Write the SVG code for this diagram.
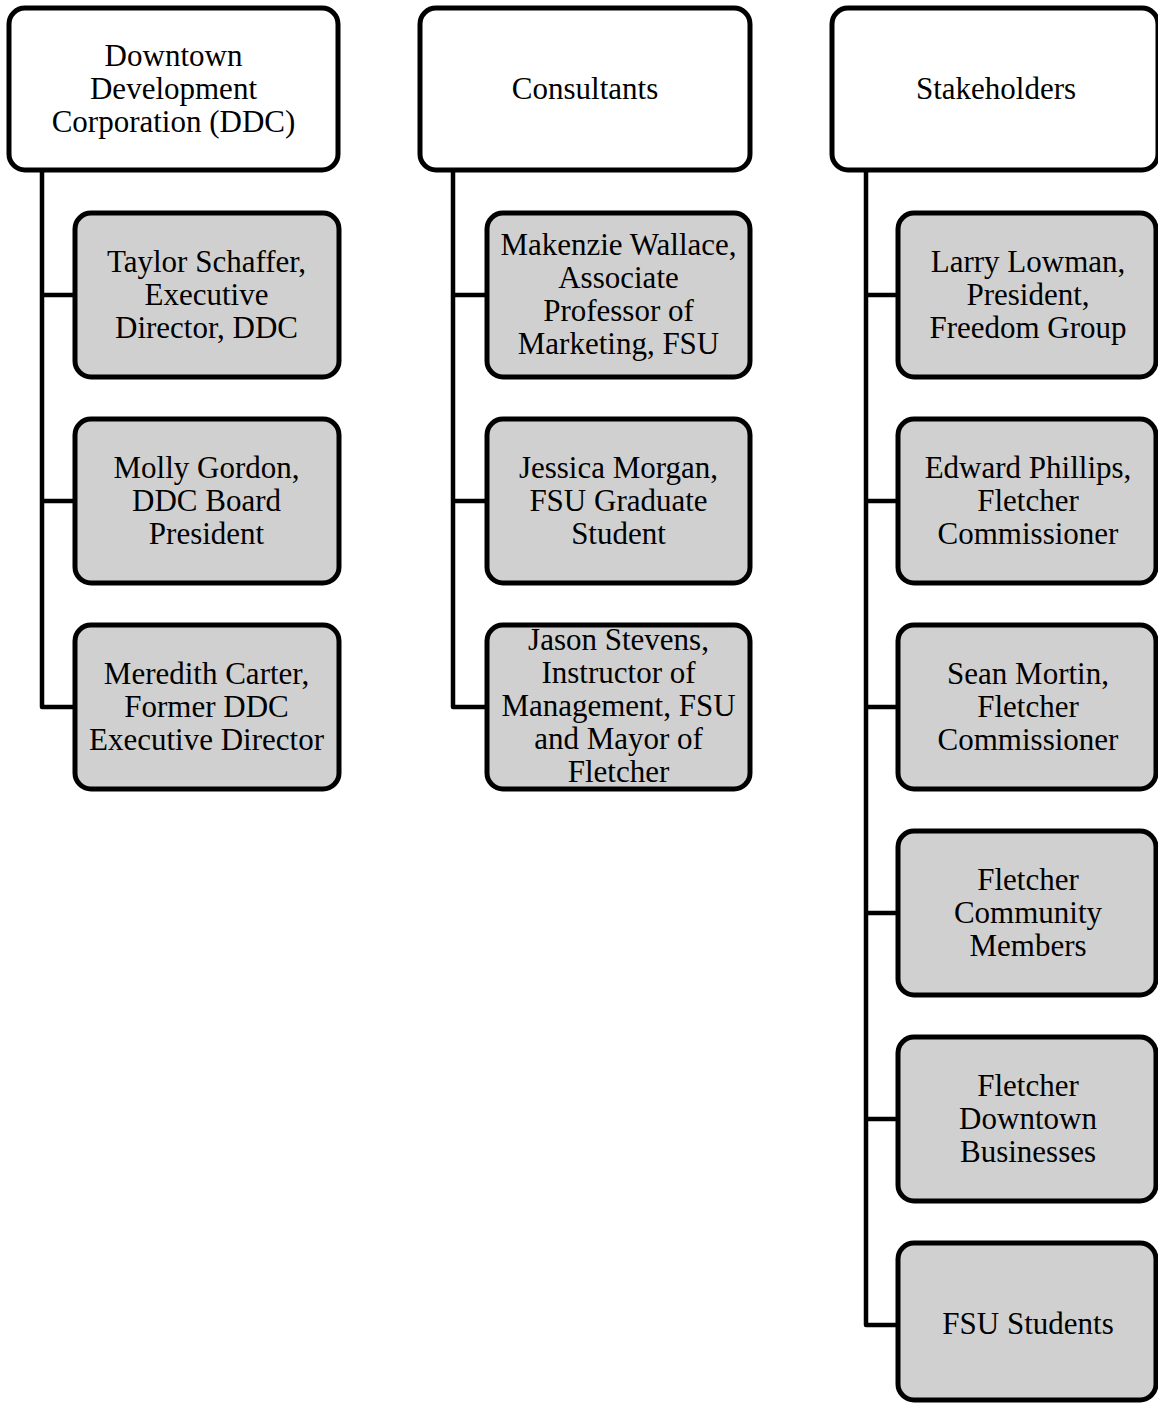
<svg xmlns="http://www.w3.org/2000/svg" width="1158" height="1403" viewBox="0 0 1158 1403">
<style>
.hd{fill:#ffffff;stroke:#000;stroke-width:5}
.ch{fill:#d0d0d0;stroke:#000;stroke-width:5}
.cn{fill:none;stroke:#000;stroke-width:4.5;stroke-linejoin:round}
text{font-family:"Liberation Serif","Times New Roman",serif;font-size:31px;fill:#000;text-anchor:middle}
</style>
<rect width="1158" height="1403" fill="#fff"/>
<g id="connectors">
<path class="cn" d="M42,170 V707 H74 M42,295 H74 M42,501 H74"/>
<path class="cn" d="M453,170 V707 H487 M453,295 H487 M453,501 H487"/>
<path class="cn" d="M866,170 V1325 H897 M866,295 H897 M866,501 H897 M866,707 H897 M866,913 H897 M866,1119 H897"/>
</g>
<g id="ddc"><rect class="hd" x="9" y="8" width="329" height="162" rx="16"/>
<text x="173.5" y="66">Downtown</text><text x="173.5" y="99">Development</text><text x="173.5" y="132">Corporation (DDC)</text></g>
<g id="consultants"><rect class="hd" x="420" y="8" width="330" height="162" rx="16"/>
<text x="585" y="99">Consultants</text></g>
<g id="stakeholders"><rect class="hd" x="832" y="8" width="326" height="162" rx="16"/>
<text x="996" y="99">Stakeholders</text></g>

<g id="taylor"><rect class="ch" x="75" y="213" width="264" height="164" rx="16"/>
<text x="206.5" y="272">Taylor Schaffer,</text><text x="206.5" y="305">Executive</text><text x="206.5" y="338">Director, DDC</text></g>
<g id="molly"><rect class="ch" x="75" y="419" width="264" height="164" rx="16"/>
<text x="206.5" y="478">Molly Gordon,</text><text x="206.5" y="511">DDC Board</text><text x="206.5" y="544">President</text></g>
<g id="meredith"><rect class="ch" x="75" y="625" width="264" height="164" rx="16"/>
<text x="206.5" y="684">Meredith Carter,</text><text x="206.5" y="717">Former DDC</text><text x="206.5" y="750">Executive Director</text></g>

<g id="makenzie"><rect class="ch" x="487" y="213" width="263" height="164" rx="16"/>
<text x="618.5" y="255">Makenzie Wallace,</text><text x="618.5" y="288">Associate</text><text x="618.5" y="321">Professor of</text><text x="618.5" y="354">Marketing, FSU</text></g>
<g id="jessica"><rect class="ch" x="487" y="419" width="263" height="164" rx="16"/>
<text x="618.5" y="478">Jessica Morgan,</text><text x="618.5" y="511">FSU Graduate</text><text x="618.5" y="544">Student</text></g>
<g id="jason"><rect class="ch" x="487" y="625" width="263" height="164" rx="16"/>
<text x="618.5" y="650">Jason Stevens,</text><text x="618.5" y="683">Instructor of</text><text x="618.5" y="716">Management, FSU</text><text x="618.5" y="749">and Mayor of</text><text x="618.5" y="782">Fletcher</text></g>

<g id="larry"><rect class="ch" x="898" y="213" width="258" height="164" rx="16"/>
<text x="1028" y="272">Larry Lowman,</text><text x="1028" y="305">President,</text><text x="1028" y="338">Freedom Group</text></g>
<g id="edward"><rect class="ch" x="898" y="419" width="258" height="164" rx="16"/>
<text x="1028" y="478">Edward Phillips,</text><text x="1028" y="511">Fletcher</text><text x="1028" y="544">Commissioner</text></g>
<g id="sean"><rect class="ch" x="898" y="625" width="258" height="164" rx="16"/>
<text x="1028" y="684">Sean Mortin,</text><text x="1028" y="717">Fletcher</text><text x="1028" y="750">Commissioner</text></g>
<g id="community"><rect class="ch" x="898" y="831" width="258" height="164" rx="16"/>
<text x="1028" y="890">Fletcher</text><text x="1028" y="923">Community</text><text x="1028" y="956">Members</text></g>
<g id="businesses"><rect class="ch" x="898" y="1037" width="258" height="164" rx="16"/>
<text x="1028" y="1096">Fletcher</text><text x="1028" y="1129">Downtown</text><text x="1028" y="1162">Businesses</text></g>
<g id="students"><rect class="ch" x="898" y="1243" width="258" height="157" rx="16"/>
<text x="1028" y="1334">FSU Students</text></g>
</svg>
